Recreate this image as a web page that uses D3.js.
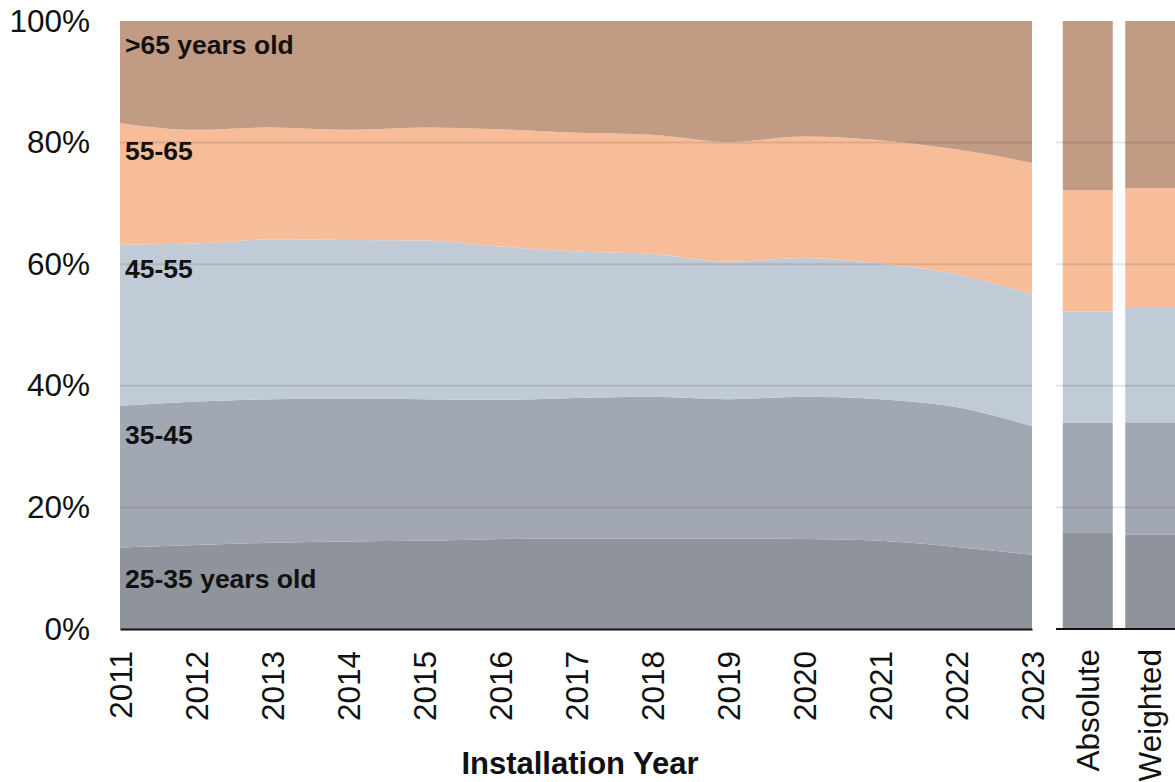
<!DOCTYPE html>
<html>
<head>
<meta charset="utf-8">
<script src="https://cdn.jsdelivr.net/npm/d3@7"></script>
<style>
  html, body { margin: 0; padding: 0; background: #fff; }
  svg { display: block; font-family: "Liberation Sans", Arial, sans-serif; }
</style>
</head>
<body>
<svg id="chart" width="1175" height="782"></svg>
<script>
// Installation years and age-group shares (%)
const years = [2011, 2012, 2013, 2014, 2015, 2016, 2017, 2018, 2019, 2020, 2021, 2022, 2023];
const ageGroups = ["25-35", "35-45", "45-55", "55-65", ">65"];
const age25to35 = [13.4, 13.8, 14.2, 14.4, 14.5, 14.8, 14.9, 14.9, 14.9, 14.8, 14.5, 13.5, 12.2];
const age35to45 = [23.3, 23.6, 23.6, 23.5, 23.3, 22.9, 23.1, 23.3, 22.9, 23.4, 23.3, 23.0, 21.2];
const age45to55 = [26.5, 26.0, 26.3, 26.1, 26.1, 25.2, 24.1, 23.5, 22.6, 22.8, 22.3, 21.9, 21.6];
const age55to65 = [20.0, 18.7, 18.4, 18.1, 18.6, 19.3, 19.5, 19.6, 19.7, 20.0, 20.3, 20.5, 21.7];
const age65plus = [16.8, 17.9, 17.5, 17.9, 17.5, 17.8, 18.4, 18.7, 19.9, 19.0, 19.6, 21.1, 23.3];

// Summary columns across all years
const summaryCategories = ["Absolute", "Weighted"];
const summaryAbsolute = [15.8, 18.1, 18.3, 20.0, 27.8];
const summaryWeighted = [15.5, 18.5, 18.8, 19.7, 27.5];

const groupLabels = ["25-35 years old", "35-45", "45-55", "55-65", ">65 years old"];
const yTicks = [0, 20, 40, 60, 80, 100];
const xAxisTitle = "Installation Year";

const colors = {
  "25-35": "#8f939b",
  "35-45": "#a2a8b3",
  "45-55": "#c1cbd7",
  "55-65": "#f6bd98",
  ">65": "#c19b83"
};

const seriesByGroup = {
  "25-35": age25to35,
  "35-45": age35to45,
  "45-55": age45to55,
  "55-65": age55to65,
  ">65": age65plus
};

const rows = years.map((yr, i) => {
  const r = { year: yr };
  ageGroups.forEach(g => { r[g] = seriesByGroup[g][i]; });
  return r;
});

const summaryRows = summaryCategories.map((c, i) => {
  const src = i === 0 ? summaryAbsolute : summaryWeighted;
  const r = { cat: c };
  ageGroups.forEach((g, j) => { r[g] = src[j]; });
  return r;
});

const svg = d3.select("#chart");

const tickFont = 31.5;
const plotTop = 21, plotBottom = 629;
const y = d3.scaleLinear().domain([0, 100]).range([plotBottom, plotTop]);
const x = d3.scaleLinear().domain([2011, 2023]).range([120, 1032]);
const xb = d3.scaleBand().domain(summaryCategories)
  .range([1056.5, 1181.5]).paddingInner(0.2).paddingOuter(0.1);

const stack = d3.stack().keys(ageGroups);
const layers = stack(rows);
const summaryLayers = stack(summaryRows);

// Stacked areas
const area = d3.area()
  .x(d => x(d.data.year))
  .y0(d => y(d[0]))
  .y1(d => y(d[1]))
  .curve(d3.curveMonotoneX);

svg.append("g").selectAll("path")
  .data(layers)
  .join("path")
  .attr("d", area)
  .attr("fill", d => colors[d.key]);

// Stacked summary bars
svg.append("g").selectAll("g")
  .data(summaryLayers)
  .join("g")
  .attr("fill", d => colors[d.key])
  .selectAll("rect")
  .data(d => d)
  .join("rect")
  .attr("x", d => xb(d.data.cat))
  .attr("width", xb.bandwidth())
  .attr("y", d => y(d[1]))
  .attr("height", d => y(d[0]) - y(d[1]));

// Gridlines drawn over the fills
const gridG = svg.append("g");
[[120, 1032], [1056, 1175]].forEach(([x0, x1]) => {
  gridG.append("g").selectAll("line")
    .data(yTicks.filter(t => t > 0 && t < 100))
    .join("line")
    .attr("x1", x0).attr("x2", x1)
    .attr("y1", d => y(d)).attr("y2", d => y(d))
    .attr("stroke", "#000")
    .attr("stroke-opacity", 0.1)
    .attr("stroke-width", 2);
});

// Y axis labels
const yAxis = d3.axisLeft(y).tickValues(yTicks).tickFormat(d => d + "%").tickSize(0).tickPadding(0);
svg.append("g")
  .attr("transform", "translate(90,0)")
  .call(yAxis)
  .call(g => g.select(".domain").remove())
  .selectAll("text")
  .attr("font-size", tickFont)
  .attr("font-family", "Liberation Sans, Arial, sans-serif")
  .attr("fill", "#111");

// X axis (years)
const xAxis = d3.axisBottom(x).tickValues(years).tickFormat(d3.format("d")).tickSize(0);
svg.append("g")
  .attr("transform", `translate(0,${plotBottom})`)
  .call(xAxis)
  .call(g => g.select(".domain").attr("stroke", "#111").attr("stroke-width", 2))
  .selectAll("text")
  .attr("font-size", tickFont)
  .attr("font-family", "Liberation Sans, Arial, sans-serif")
  .attr("fill", "#111")
  .attr("text-anchor", "end")
  .attr("transform", "rotate(-90)")
  .attr("x", -22)
  .attr("y", 0)
  .attr("dy", "0.35em");

// Summary axis
const xbAxis = d3.axisBottom(xb).tickSize(0);
svg.append("g")
  .attr("transform", `translate(0,${plotBottom})`)
  .call(xbAxis)
  .call(g => g.select(".domain").attr("d", "M1056,0H1175").attr("stroke", "#111").attr("stroke-width", 2))
  .selectAll("text")
  .attr("font-size", tickFont)
  .attr("font-family", "Liberation Sans, Arial, sans-serif")
  .attr("fill", "#111")
  .attr("text-anchor", "end")
  .attr("transform", "rotate(-90)")
  .attr("x", -20)
  .attr("y", 0)
  .attr("dy", "0.35em");

// Axis title
svg.append("text")
  .attr("x", 580)
  .attr("y", 774)
  .attr("text-anchor", "middle")
  .attr("font-size", 31)
  .attr("font-weight", "bold")
  .attr("fill", "#111")
  .text(xAxisTitle);

// Series labels inside the areas
const labelBaselines = [588, 444, 278, 160, 54];
svg.append("g").selectAll("text")
  .data(groupLabels)
  .join("text")
  .attr("x", 125)
  .attr("y", (d, i) => labelBaselines[i])
  .attr("font-size", 26.5)
  .attr("font-weight", "bold")
  .attr("fill", "#111")
  .text(d => d);
</script>
</body>
</html>
